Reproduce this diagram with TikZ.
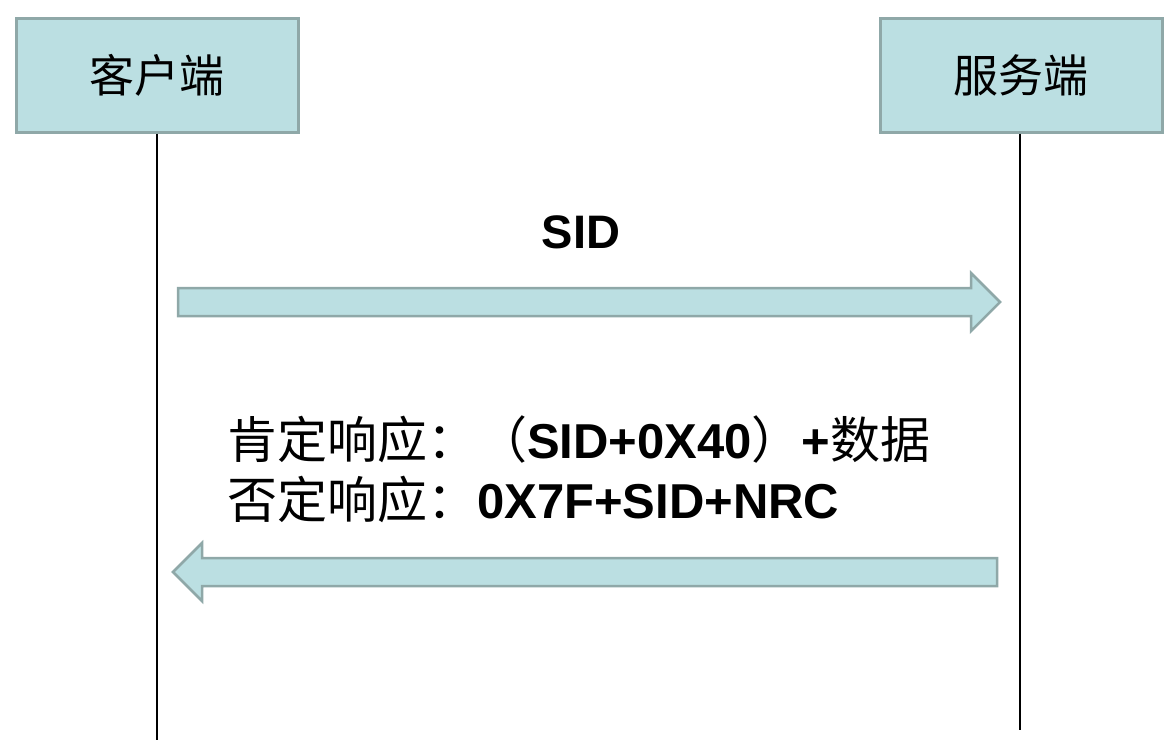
\documentclass[tikz,border=0pt]{standalone}
\usepackage{fontspec}
\setmainfont{Liberation Sans}
\newfontfamily\cjk{Noto Sans CJK SC}
\definecolor{boxfill}{HTML}{BBDFE2}
\definecolor{boxline}{HTML}{8FA8A8}
\newcommand{\lb}[1]{{\rmfamily\bfseries\fontsize{49}{56}\selectfont #1}}
\tikzset{
  actor/.style={draw=boxline, line width=3pt, fill=boxfill, minimum width=282pt, minimum height=114pt, inner sep=0pt, font=\cjk\fontsize{45}{52}\selectfont},
  lifeline/.style={draw=black, line width=2.2pt},
  blockarrow/.style={draw=boxline, line width=2.5pt, fill=boxfill, line join=miter},
  msg/.style={inner sep=0pt, anchor=base west}
}
\begin{document}
\begin{tikzpicture}[x=1pt,y=-1pt]
\useasboundingbox (0,0) rectangle (1174,753);
\node[actor] (client) at (157,75) {客户端};
\node[actor] (server) at (1021,75) {服务端};
\coordinate (cend) at (157,740);
\coordinate (send) at (1020,730);
\draw[lifeline] (client.south) -- (cend);
\draw[lifeline] (server.south -| send) -- (send);
% request arrow
\draw[blockarrow] (178,288) -- (971,288) -- (971,273) -- (1000,302) -- (971,331) -- (971,316) -- (178,316) -- cycle;
% response arrow
\draw[blockarrow] (997,558) -- (202,558) -- (202,543) -- (173,572) -- (202,601) -- (202,586) -- (997,586) -- cycle;
\node[msg, anchor=base] (sid) at (581,248) {\rmfamily\bfseries\fontsize{47}{52}\selectfont SID};
\node[msg] (pos) at (227,458) {\cjk\fontsize{50}{56}\selectfont 肯定响应：（\lb{SID+0X40}）\lb{+}数据};
\node[msg] (neg) at (227,518) {\cjk\fontsize{50}{56}\selectfont 否定响应：\lb{0X7F+SID+NRC}};
\end{tikzpicture}
\end{document}
